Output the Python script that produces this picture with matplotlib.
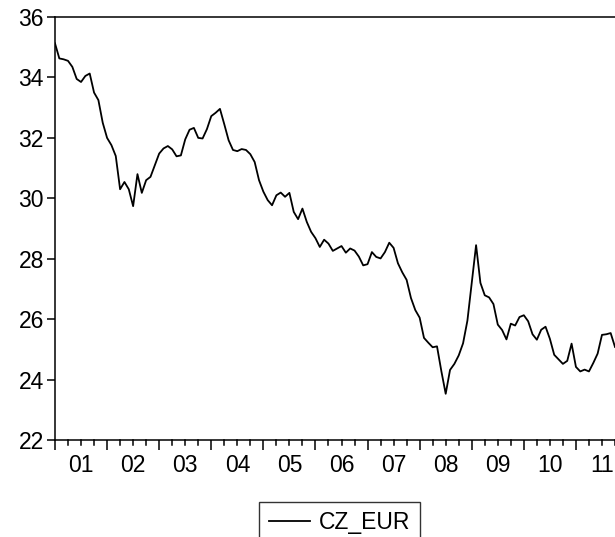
import numpy as np
import matplotlib
matplotlib.use('Agg')
import matplotlib.pyplot as plt
from matplotlib.ticker import FixedLocator, MultipleLocator, NullFormatter

# --- DATA (monthly, Jan 2001 onwards) ---
cz_eur = [
    35.13, 34.63, 34.60, 34.55, 34.35, 33.95, 33.85, 34.05, 34.13, 33.50, 33.25, 32.50,
    32.00, 31.76, 31.40, 30.30, 30.54, 30.30, 29.74, 30.80, 30.18, 30.60, 30.71, 31.10,
    31.48, 31.65, 31.73, 31.62, 31.39, 31.42, 31.95, 32.27, 32.33, 32.00, 31.98, 32.29,
    32.72, 32.83, 32.96, 32.45, 31.92, 31.60, 31.56, 31.63, 31.60, 31.46, 31.20, 30.60,
    30.22, 29.94, 29.77, 30.10, 30.19, 30.05, 30.18, 29.55, 29.31, 29.66, 29.22, 28.89,
    28.68, 28.39, 28.63, 28.50, 28.26, 28.34, 28.42, 28.20, 28.34, 28.27, 28.07, 27.78,
    27.82, 28.22, 28.06, 28.01, 28.22, 28.53, 28.36, 27.85, 27.55, 27.30, 26.70, 26.30,
    26.05, 25.38, 25.22, 25.07, 25.10, 24.28, 23.53, 24.32, 24.52, 24.80, 25.20, 25.95,
    27.20, 28.45, 27.20, 26.79, 26.72, 26.50, 25.82, 25.64, 25.33, 25.85, 25.79, 26.07,
    26.13, 25.93, 25.50, 25.32, 25.65, 25.75, 25.35, 24.82, 24.67, 24.52, 24.62, 25.19,
    24.42, 24.27, 24.33, 24.27, 24.55, 24.86, 25.48, 25.50, 25.54, 25.08,
]
year_labels = ['01', '02', '03', '04', '05', '06', '07', '08', '09', '10', '11']

plt.rcParams['font.family'] = ['Liberation Sans', 'DejaVu Sans']
FS = 16.5

months = np.arange(len(cz_eur))

fig = plt.figure(figsize=(6.15, 5.37), dpi=100)
ax = fig.add_axes([0.0894, 0.1806, 0.9106, 0.7877])

line, = ax.plot(months, cz_eur, color='black', linewidth=1.3, label='CZ_EUR')

ax.set_xlim(0, len(cz_eur) - 1)
ax.set_ylim(22, 36)
ax.set_yticks(np.arange(22, 37, 2))

# year boundaries as major ticks, labels centred in each year (minor positions)
ax.xaxis.set_major_locator(MultipleLocator(12))
ax.xaxis.set_major_formatter(NullFormatter())
ax.set_xticks([6 + 12 * i for i in range(len(year_labels))], labels=year_labels, minor=True)
ax.tick_params(axis='x', which='major', direction='out', length=7, width=1.1)
ax.tick_params(axis='x', which='minor', length=0, pad=10, labelsize=FS)
ax.tick_params(axis='y', direction='out', length=6, width=1.1, labelsize=FS, pad=2)

# quarter ticks drawn as short marks
for q in range(0, len(cz_eur) + 3, 3):
    if q % 12 != 0:
        ax.plot([q, q], [0, -0.012], transform=ax.get_xaxis_transform(),
                color='black', linewidth=1.1, clip_on=False)

for side in ['left', 'top', 'bottom']:
    ax.spines[side].set_linewidth(1.1)
ax.spines['right'].set_visible(False)

leg = fig.legend(handles=[line], loc='upper center', bbox_to_anchor=(0.552, 0.066),
                 frameon=True, fancybox=False, fontsize=FS, handlelength=1.8,
                 borderpad=0.4, handletextpad=0.4, borderaxespad=0)
leg.get_frame().set_edgecolor('black')
leg.get_frame().set_linewidth(1.0)

fig.savefig('out.png', dpi=100)
